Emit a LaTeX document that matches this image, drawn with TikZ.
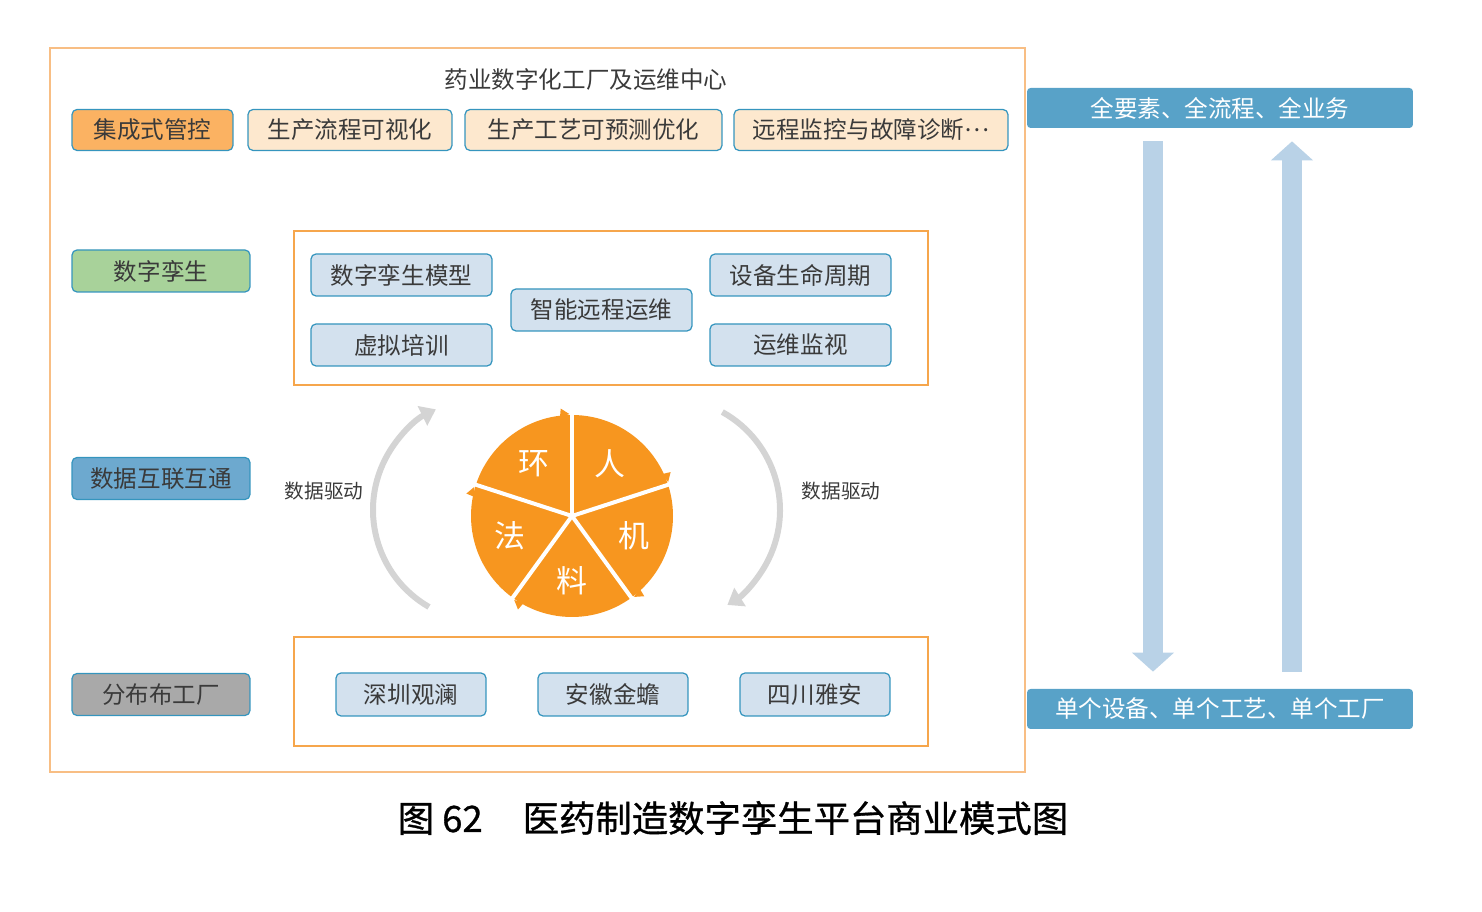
\documentclass[tikz,border=0pt]{standalone}
\usepackage{fontspec}
\setmainfont{Noto Sans CJK SC}
\newfontfamily\captionfont[FakeBold=0.8]{Noto Sans CJK SC}
\usepackage{tikz}
\usetikzlibrary{arrows.meta, positioning}
\definecolor{frameorange}{HTML}{F8BE84}
\definecolor{lineorange}{HTML}{F6A64C}
\definecolor{boxblue}{HTML}{3595BE}
\definecolor{ctrlorange}{HTML}{FBB262}
\definecolor{peach}{HTML}{FDE8CE}
\definecolor{twingreen}{HTML}{A8D29A}
\definecolor{linkblue}{HTML}{6DA9CF}
\definecolor{plantgrey}{HTML}{A9A9A9}
\definecolor{paleblue}{HTML}{D3E1EE}
\definecolor{bannerblue}{HTML}{58A2C8}
\definecolor{arrowblue}{HTML}{B9D2E7}
\definecolor{pieorange}{HTML}{F7961F}
\definecolor{cyclegrey}{HTML}{D4D4D4}
\definecolor{darktext}{HTML}{3A3A3A}
\tikzset{
    box/.style={draw=boxblue, line width=0.7pt, rounded corners=0.1cm, minimum height=0.84cm,
        inner sep=0pt, text=darktext, font=\fontsize{13.4}{16}\selectfont},
    topbox/.style={box, minimum height=0.82cm},
    sidebox/.style={box, minimum width=3.56cm},
    twinbox/.style={box, fill=paleblue, minimum width=3.62cm},
    plantbox/.style={box, fill=paleblue, minimum width=3cm, minimum height=0.86cm},
    banner/.style={fill=bannerblue, rounded corners=2pt, minimum width=7.72cm, minimum height=0.8cm,
        inner sep=0pt, text=white, font=\fontsize{13.4}{16}\selectfont},
    layer/.style={draw=lineorange, line width=0.8pt},
    drivetext/.style={text=darktext, font=\fontsize{11.2}{13}\selectfont},
    pietext/.style={text=white, font=\fontsize{17.6}{20}\selectfont},
    cyclearrow/.style={cyclegrey, line width=0.12cm, -{Triangle[width=0.42cm, length=0.3cm]}},
    bigarrow/.style={arrowblue, line width=0.41cm, -{Triangle[width=0.82cm, length=0.38cm]}}
}

\begin{document}
\begin{tikzpicture}[x=0.02cm, y=0.02cm]
    \useasboundingbox (0,0) rectangle (1482,912);

    % platform frame
    \draw[frameorange, line width=0.8pt] (50,140) rectangle (1025,864);
    \node[text=darktext, font=\fontsize{13.4}{16}\selectfont] (title) at (586,832) {药业数字化工厂及运维中心};

    % top row
    \node[topbox, fill=ctrlorange, minimum width=3.22cm] (ctrl) at (152.5,782) {集成式管控};
    \node[topbox, fill=peach, minimum width=4.08cm] (flow) at (350,782) {生产流程可视化};
    \node[topbox, fill=peach, minimum width=5.14cm] (craft) at (593.5,782) {生产工艺可预测优化};
    \node[topbox, fill=peach, minimum width=5.48cm] (remote) at (871,782) {远程监控与故障诊断\raisebox{0.32em}{…}};

    % left column
    \node[sidebox, fill=twingreen] (twin) at (161,641) {数字孪生};
    \node[sidebox, fill=linkblue] (link) at (161,433.5) {数据互联互通};
    \node[sidebox, fill=plantgrey] (plant) at (161,217.5) {分布布工厂};

    % digital twin layer
    \draw[layer] (294,527) rectangle (928,681);
    \node[twinbox] (model) at (401.5,637) {数字孪生模型};
    \node[twinbox] (train) at (401.5,567) {虚拟培训};
    \node[twinbox] (ops) at (601.5,602) {智能远程运维};
    \node[twinbox] (life) at (800.5,637) {设备生命周期};
    \node[twinbox] (watch) at (800.5,567) {运维监视};

    % factories layer
    \draw[layer] (294,166) rectangle (928,275);
    \node[plantbox] (sz) at (411,217.5) {深圳观澜};
    \node[plantbox] (ah) at (613,217.5) {安徽金蟾};
    \node[plantbox] (sc) at (815,217.5) {四川雅安};

    % pie of five elements
    \coordinate (pc) at (572,396);
    \fill[pieorange] (pc) circle[radius=101];
    \foreach \a in {90,18,-54,-126,162} {
        \fill[pieorange] ([shift={(\a+7:99)}]pc) -- ([shift={(\a+6:108)}]pc) -- ([shift={(\a+1.5:102)}]pc) -- cycle;
        \draw[white, line width=0.08cm] (pc) -- ++(\a:106);
    }
    \foreach \a/\t [count=\i] in {54/人, 126/环, 198/法, 270/料, 342/机}
        \node[pietext] (pie\i) at ([shift={(\a:65)}]pc) {\t};

    % data driven cycle
    \coordinate (lc) at (485,402);
    \coordinate (rc) at (668,402);
    \draw[cyclearrow] ([shift={(240:112)}]lc) arc[start angle=240, end angle=116, radius=112];
    \draw[cyclearrow] ([shift={(61:112)}]rc) arc[start angle=61, end angle=-58, radius=112];
    \node[drivetext] (drvl) at (324,421) {数据驱动};
    \node[drivetext] (drvr) at (841,421) {数据驱动};

    % right side
    \node[banner] (whole) at (1220,804) {全要素、全流程、全业务};
    \node[banner] (single) at (1220,203) {单个设备、单个工艺、单个工厂};
    \coordinate (dn) at (1153,0);
    \coordinate (up) at (1292,0);
    \draw[bigarrow] ([yshift=-0.26cm]whole.south -| dn) -- ([yshift=0.34cm]single.north -| dn);
    \draw[bigarrow] ([yshift=0.34cm]single.north -| up) -- ([yshift=-0.26cm]whole.south -| up);

    % caption
    \node[text=black, font=\captionfont\fontsize{20.7}{24}\selectfont] (caption) at (733,94) {图 62\hspace{1.1em}医药制造数字孪生平台商业模式图};
\end{tikzpicture}
\end{document}
